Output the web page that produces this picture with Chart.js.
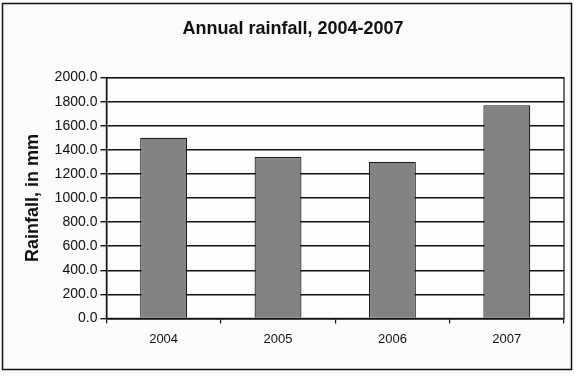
<!DOCTYPE html>
<html>
<head>
<meta charset="utf-8">
<script src="https://cdn.jsdelivr.net/npm/chart.js@4/dist/chart.umd.min.js"></script>
<style>
  html, body { margin: 0; padding: 0; background: #fbfbfb; }
  #wrap { position: relative; width: 574px; height: 376px; }
  canvas { display: block; }
</style>
</head>
<body>
<div id="wrap"><canvas id="c" width="574" height="376"></canvas></div>
<script>
// Annual rainfall per year, millimetres
const years = ['2004', '2005', '2006', '2007'];
const rainfall = [1500, 1340, 1300, 1770];

const axisMin = 0;
const axisMax = 2000;
const axisStep = 200;

const font = "'Liberation Sans', Arial, sans-serif";

// Frame round the whole figure, and a box round the plot area
const framePlugin = {
  id: 'frames',
  beforeDraw(chart) {
    const { ctx, chartArea: a } = chart;
    ctx.save();
    ctx.fillStyle = '#fdfdfd';
    ctx.fillRect(a.left, a.top, a.right - a.left, a.bottom - a.top);
    ctx.restore();
  },
  afterDraw(chart) {
    const { ctx, width, height, chartArea: a } = chart;
    ctx.save();
    ctx.strokeStyle = '#111';
    ctx.lineWidth = 1.5;
    ctx.strokeRect(2.5, 3.5, width - 5, height - 10);
    ctx.lineWidth = 1.2;
    ctx.strokeRect(a.left, a.top, a.right - a.left, a.bottom - a.top);
    ctx.restore();
  }
};

new Chart(document.getElementById('c'), {
  type: 'bar',
  data: {
    labels: years,
    datasets: [{
      label: 'Rainfall',
      data: rainfall,
      backgroundColor: '#838383',
      borderColor: '#1a1a1a',
      borderWidth: 1.2,
      barPercentage: 0.41,
      categoryPercentage: 1.0
    }]
  },
  options: {
    responsive: false,
    animation: false,
    devicePixelRatio: 1,
    layout: { padding: { left: 22, right: 10, top: 8, bottom: 21 } },
    plugins: {
      legend: { display: false },
      tooltip: { enabled: false },
      title: {
        display: true,
        text: 'Annual rainfall, 2004-2007',
        color: '#111',
        font: { family: font, size: 18, weight: 'bold' },
        padding: { top: 10, bottom: 38 }
      }
    },
    scales: {
      x: {
        grid: {
          display: true,
          drawOnChartArea: false,
          drawTicks: true,
          tickLength: 5,
          color: '#111',
          lineWidth: 1.2
        },
        border: { display: true, color: '#111', width: 1.5 },
        ticks: {
          color: '#111',
          font: { family: font, size: 13 },
          padding: 8
        }
      },
      y: {
        min: axisMin,
        max: axisMax,
        grid: {
          color: '#111',
          lineWidth: 1.4,
          drawTicks: true,
          tickLength: 6
        },
        border: { display: true, color: '#111', width: 1.5 },
        ticks: {
          stepSize: axisStep,
          color: '#111',
          font: { family: font, size: 14 },
          padding: 3,
          callback: v => Number(v).toFixed(1)
        },
        title: {
          display: true,
          text: 'Rainfall, in mm',
          color: '#111',
          font: { family: font, size: 18, weight: 'bold' },
          padding: { top: 0, bottom: 8 }
        }
      }
    }
  },
  plugins: [framePlugin]
});
</script>
</body>
</html>
